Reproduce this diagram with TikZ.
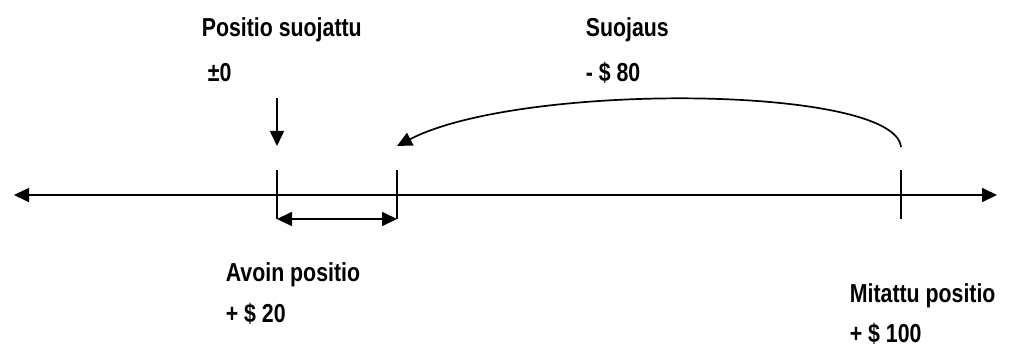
\documentclass[tikz,border=0pt]{standalone}
\usepackage{fontspec}
\setmainfont{Liberation Sans}[FakeStretch=0.82]
\usetikzlibrary{arrows.meta}
\begin{document}
\begin{tikzpicture}[x=1pt,y=-1pt,
  line width=1.7pt,
  tip/.style={-{Triangle[length=15pt,width=14pt]}},
  both/.style={{Triangle[length=15pt,width=14pt]}-{Triangle[length=15pt,width=14pt]}},
  lbl/.style={anchor=base west,inner sep=0pt,font=\bfseries\fontsize{26}{30}\selectfont}]
\useasboundingbox (0,0) rectangle (1009,347);

% axis
\coordinate (axL) at (14,195);
\coordinate (axR) at (997,195);
\draw[both] (axL) -- (axR);

% ticks
\coordinate (t1a) at (277,170); \coordinate (t1b) at (277,219);
\coordinate (t2a) at (397,170); \coordinate (t2b) at (397,219);
\coordinate (t3a) at (901,170); \coordinate (t3b) at (901,219);
\draw (t1a) -- (t1b);
\draw (t2a) -- (t2b);
\draw (t3a) -- (t3b);

% open position span
\draw[both] (t1b) -- (t2b);

% hedged marker
\coordinate (dnA) at (277,98);
\coordinate (dnB) at (277,146);
\draw[tip] (dnA) -- (dnB);

% hedge arc
\coordinate (arcS) at (901,147);
\coordinate (arcE) at (397,146);
\draw[tip] (arcS) .. controls (895,85) and (520,82) .. (arcE);

% labels
\node[lbl] (hedged) at (201,37) {Positio suojattu};
\node[lbl] (zero) at (207,82) {±0};
\node[lbl] (hedge) at (585,37) {Suojaus};
\node[lbl] (m80) at (585,82) {- \$ 80};
\node[lbl] (open) at (225,282) {Avoin positio};
\node[lbl] (p20) at (225,322) {+ \$ 20};
\node[lbl] (meas) at (849,302) {Mitattu positio};
\node[lbl] (p100) at (849,342) {+ \$ 100};
\end{tikzpicture}
\end{document}
